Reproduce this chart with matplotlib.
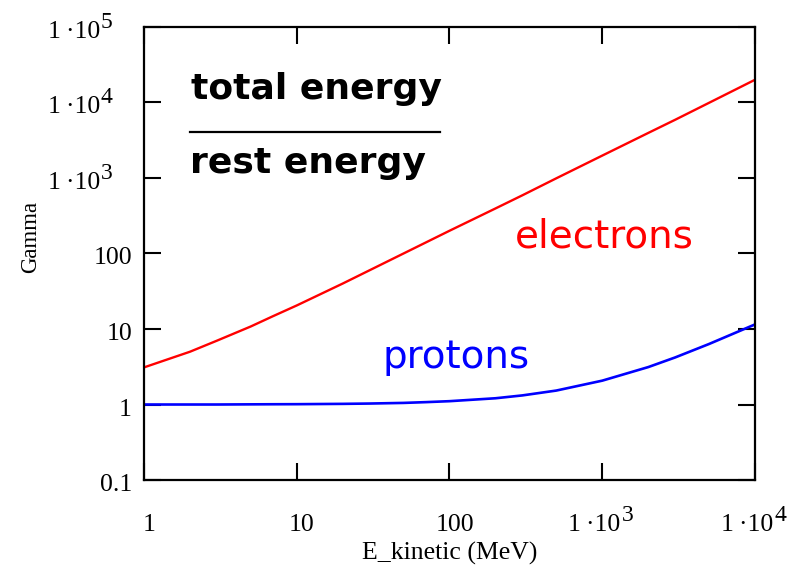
import matplotlib
matplotlib.use("Agg")
import matplotlib.pyplot as plt
from matplotlib.ticker import FixedLocator, NullFormatter, NullLocator

# kinetic energy (MeV) and Lorentz factor
energy = [1, 2, 3, 5, 7, 10, 20, 30, 50, 70, 100, 200, 300, 500,
          1000, 2000, 3000, 5000, 10000]
gamma_electrons = [3.1, 5.0, 7.0, 10.8, 14.8, 20.5, 40, 60, 100, 140, 200,
                   395, 590, 990, 1980, 3950, 5900, 9900, 20000]
gamma_protons = [1.0, 1.0, 1.0, 1.005, 1.008, 1.01, 1.02, 1.03, 1.05, 1.075,
                 1.107, 1.21, 1.32, 1.53, 2.07, 3.13, 4.2, 6.33, 11.5]

x_ticks = [1, 10, 100, 1000, 10000]
x_labels = ['1', '10', '100', ('1\u2009\u00b710', '3'), ('1\u2009\u00b710', '4')]
y_ticks = [0.1, 1, 10, 100, 1000, 10000, 100000]
y_labels = ['0.1', '1', '10', '100', ('1\u2009\u00b710', '3'),
            ('1\u2009\u00b710', '4'), ('1\u2009\u00b710', '5')]

plt.rcParams['font.family'] = ['Liberation Serif', 'DejaVu Serif']

fig = plt.figure(figsize=(7.95, 5.68), dpi=100)
ax = fig.add_axes([0.1811, 0.1549, 0.7686, 0.7976])

ax.plot(energy, gamma_electrons, color='#ff0000', lw=1.7)
ax.plot(energy, gamma_protons, color='#0000ff', lw=1.9)

ax.set_xscale('log')
ax.set_yscale('log')
ax.set_xlim(1, 10000)
ax.set_ylim(0.1, 100000)

ax.xaxis.set_major_locator(FixedLocator(x_ticks))
ax.yaxis.set_major_locator(FixedLocator(y_ticks))
ax.xaxis.set_minor_locator(NullLocator())
ax.yaxis.set_minor_locator(NullLocator())
ax.xaxis.set_major_formatter(NullFormatter())
ax.yaxis.set_major_formatter(NullFormatter())
ax.tick_params(direction='in', length=12, width=1.5, top=True, right=True)
for s in ax.spines.values():
    s.set_linewidth(1.6)

# Mathcad style tick labels: "1 ·10" with a big superscript
FS = 18.5
SUP = 17


def tick_label(lab, xy, trans, off, ha):
    if isinstance(lab, tuple):
        base = ax.annotate(lab[0], xy=xy, xycoords=trans, xytext=off,
                           textcoords='offset pixels', ha=ha, va='center',
                           fontsize=FS, annotation_clip=False)
        ax.annotate(lab[1], xy=(1, 0.7), xycoords=base, xytext=(1, 0),
                    textcoords='offset pixels', ha='left', va='baseline',
                    fontsize=SUP, annotation_clip=False)
    else:
        ax.annotate(lab, xy=xy, xycoords=trans, xytext=off,
                    textcoords='offset pixels', ha=ha, va='center',
                    fontsize=FS, annotation_clip=False)


for v, lab in zip(x_ticks, x_labels):
    off = (-8, -45) if isinstance(lab, tuple) else (5, -45)
    tick_label(lab, (v, 0), ax.get_xaxis_transform(), off, 'center')

for v, lab in zip(y_ticks, y_labels):
    off = (-44, -5) if isinstance(lab, tuple) else (-12, -5)
    tick_label(lab, (0, v), ax.get_yaxis_transform(), off, 'right')

ax.set_xlabel('E_kinetic (MeV)', fontsize=FS)
ax.xaxis.set_label_coords(0.5, -0.137)
ax.set_ylabel('Gamma', fontsize=16.5)
ax.yaxis.set_label_coords(-0.169, 0.536)

# fraction "total energy / rest energy"
ax.text(0.283, 0.841, 'total energy', transform=ax.transAxes,
        fontsize=26, fontweight='bold', family='DejaVu Sans',
        ha='center', va='baseline')
ax.text(0.269, 0.678, 'rest energy', transform=ax.transAxes,
        fontsize=26, fontweight='bold', family='DejaVu Sans',
        ha='center', va='baseline')
ax.plot([0.075, 0.484], [0.768, 0.768], transform=ax.transAxes,
        color='black', lw=1.6)

ax.text(0.753, 0.514, 'electrons', transform=ax.transAxes, color='#ff0000',
        fontsize=28, family='DejaVu Sans', ha='center', va='baseline')
ax.text(0.511, 0.247, 'protons', transform=ax.transAxes, color='#0000ff',
        fontsize=28, family='DejaVu Sans', ha='center', va='baseline')

fig.savefig('out.png', dpi=100)
